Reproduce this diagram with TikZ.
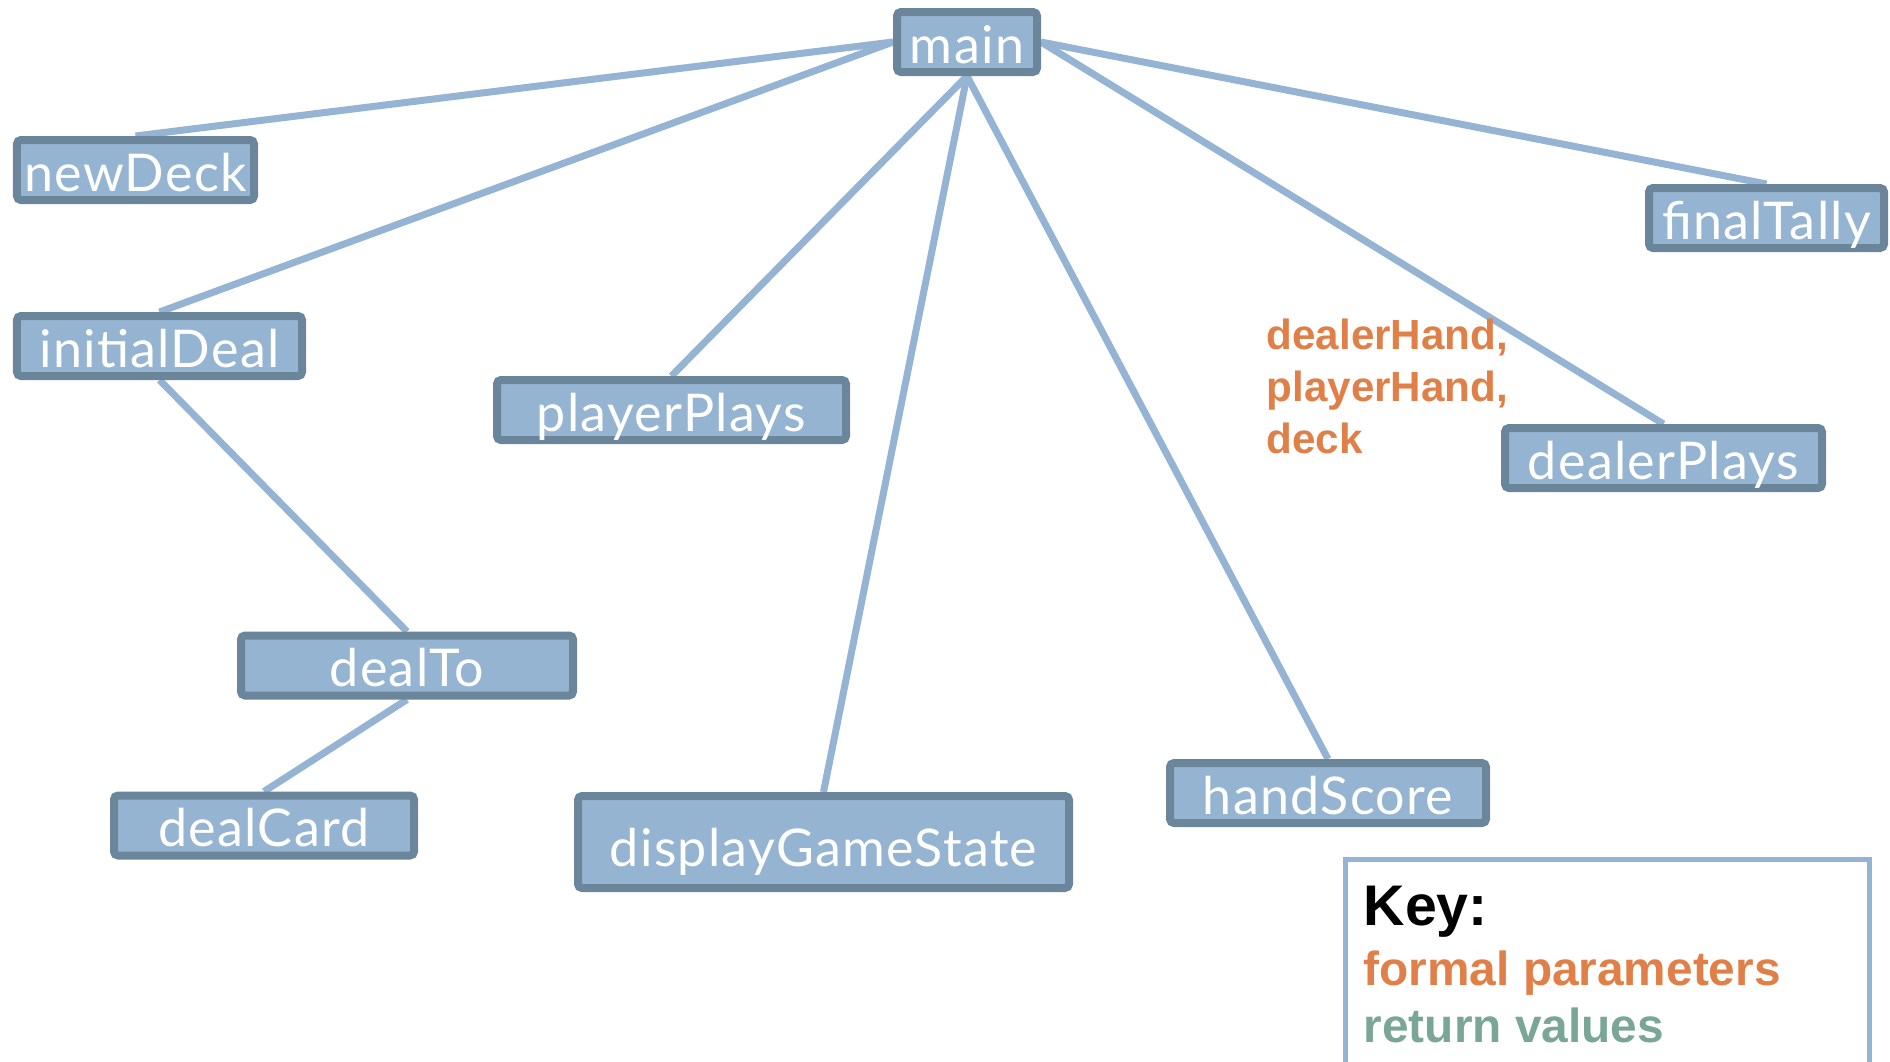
\documentclass[tikz,border=0pt]{standalone}
\usepackage{fontspec}
\usepackage{xcolor}
\setmainfont{Liberation Sans}
\newfontfamily\boxfont[LetterSpace=2.5]{Lato}
\usetikzlibrary{backgrounds}

\definecolor{boxfill}{HTML}{95B4D2}
\definecolor{boxedge}{HTML}{6B859B}
\definecolor{linkblue}{HTML}{95B3D3}
\definecolor{paramorange}{HTML}{E08048}
\definecolor{retgreen}{HTML}{7AA698}

\tikzset{
  fn/.style={draw=boxedge,fill=boxfill,line width=0.08cm,rounded corners=0.04cm,
    minimum height=0.6cm,inner sep=0pt,text=white,text height=0.48cm,text depth=0.06cm,
    font=\boxfont\fontsize{14.8}{17}\selectfont},
  call/.style={draw=linkblue,line width=0.07cm},
  keytext/.style={font=\bfseries\fontsize{13.6}{16}\selectfont,anchor=base west,inner sep=0pt}
}

\begin{document}
\begin{tikzpicture}
\useasboundingbox (0,0) rectangle (18.9,-10.62);

\node [fn,minimum width=1.40cm] (main) at (9.67,-0.42) {main};
\node [fn,minimum width=2.37cm] (newDeck) at (1.355,-1.70) {newDeck};
\node [fn,minimum width=2.85cm] (initialDeal) at (1.595,-3.46) {initialDeal};
\node [fn,minimum width=3.32cm] (dealTo) at (4.07,-6.655) {dealTo};
\node [fn,minimum width=3.00cm] (dealCard) at (2.64,-8.255) {dealCard};
\node [fn,minimum width=3.49cm] (playerPlays) at (6.715,-4.10) {playerPlays};
\node [fn,minimum width=4.91cm,minimum height=0.92cm,text height=0.56cm,text depth=0.08cm] (display) at (8.235,-8.42) {displayGameState};
\node [fn,minimum width=3.16cm] (handScore) at (13.28,-7.93) {handScore};
\node [fn,minimum width=3.17cm] (dealerPlays) at (16.635,-4.58) {dealerPlays};
\node [fn,minimum width=2.35cm] (finalTally) at (17.665,-2.18) {finalTally};

\begin{scope}[on background layer]
\draw [call] (main.west) -- (newDeck.north);
\draw [call] (main.west) -- (initialDeal.north);
\draw [call] (main.south) -- (playerPlays.north);
\draw [call] (main.south) -- (display.north);
\draw [call] (main.south) -- (handScore.north);
\draw [call] (main.east) -- (dealerPlays.north);
\draw [call] (main.east) -- (finalTally.north);
\draw [call] (initialDeal.south) -- (dealTo.north);
\draw [call] (dealTo.south) -- (dealCard.north);
\end{scope}

% parameters passed to dealerPlays
\node [font=\bfseries\fontsize{12}{14.8}\selectfont,text=paramorange,align=left,anchor=west,inner sep=0pt] (params) at (12.66,-3.86) {dealerHand,\\playerHand,\\deck};

% key
\draw [linkblue,line width=0.05cm] (13.455,-10.9) -- (13.455,-8.595) -- (18.695,-8.595) -- (18.695,-10.9);
\node [keytext,font=\bfseries\fontsize{16.3}{19}\selectfont] (key) at (13.63,-9.25) {Key:};
\node [keytext,text=paramorange] (keyformal) at (13.63,-9.85) {formal parameters};
\node [keytext,text=retgreen] (keyreturn) at (13.63,-10.42) {return values};
\end{tikzpicture}
\end{document}
